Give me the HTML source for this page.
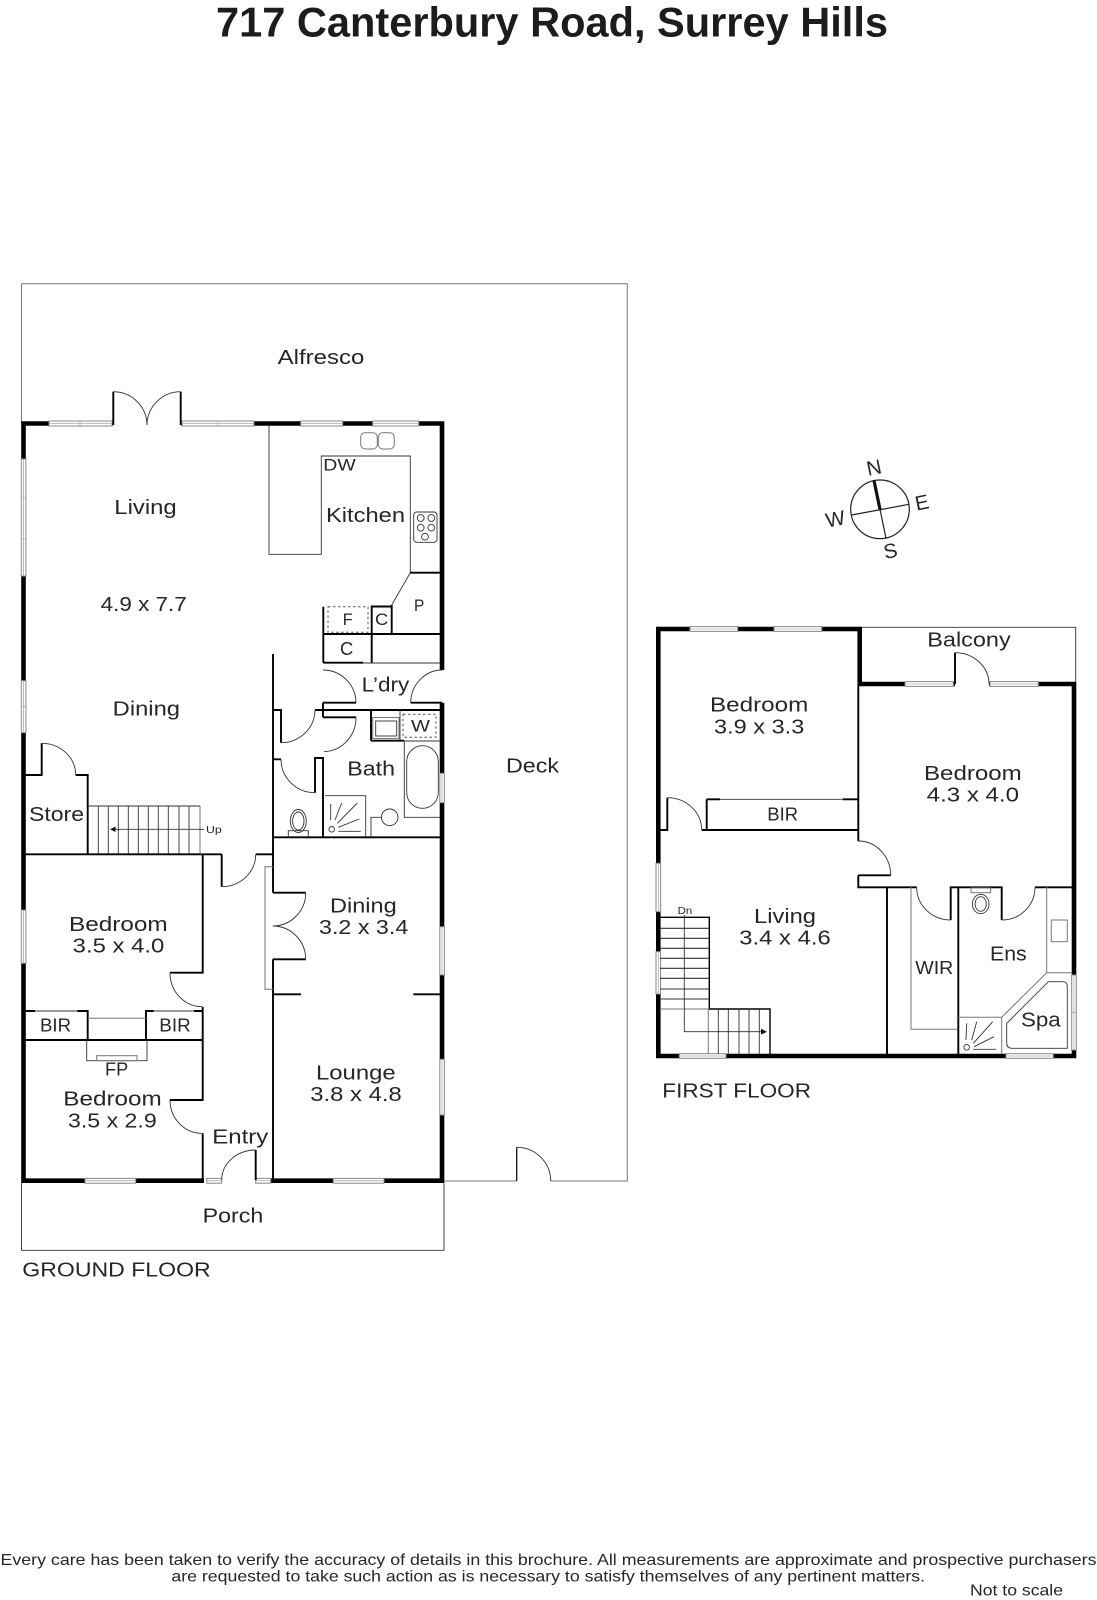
<!DOCTYPE html>
<html>
<head>
<meta charset="utf-8">
<style>
html,body{margin:0;padding:0;background:#fff;width:1097px;height:1600px;overflow:hidden}
svg{display:block}
text{font-family:"Liberation Sans",sans-serif;fill:#262626;font-size:20.5px}
.w{stroke:#000;stroke-width:4.6;fill:none}
.i{stroke:#000;stroke-width:1.9;fill:none}
.t{stroke:#333;stroke-width:.9;fill:none}
.g{stroke:#777;stroke-width:1;fill:none}
.win{fill:#fff;stroke:#888;stroke-width:1}
.wl{stroke:#aaa;stroke-width:.8}
</style>
</head>
<body>
<svg width="1097" height="1600" viewBox="0 0 1097 1600" xmlns="http://www.w3.org/2000/svg">
<rect width="1097" height="1600" fill="#fff"/>

<!-- Title -->
<text x="216" y="36.5" textLength="672" lengthAdjust="spacingAndGlyphs" style="font-size:42px;font-weight:bold;fill:#1c1c1c">717 Canterbury Road, Surrey Hills</text>

<!-- Outlines: alfresco, deck, porch -->
<path class="g" d="M21.5 423V283.7H627.3V1181H550.7M516.7 1181H444"/>
<path class="t" d="M21.5 1183V1250.3H444V1183"/>
<path d="M516.7 1181V1147.3" stroke="#111" stroke-width="1.3" fill="none"/>
<path class="t" d="M516.7 1147.3A34 33.7 0 0 1 550.7 1181"/>

<!-- GROUND FLOOR exterior walls -->
<path class="w" d="M21.2 423.5H113M181 423.5H442M23.5 423.5V1180.7M442 421.2V670M442 702.7V1183M21.2 1180.7H204M270 1180.7H444.3"/>

<!-- Windows top -->
<rect class="win" x="49" y="421" width="63" height="5"/><path class="wl" d="M49 423.5H112M80 421V426"/>
<rect class="win" x="182" y="421" width="72" height="5"/><path class="wl" d="M182 423.5H254M217.7 421V426"/>
<rect class="win" x="300.7" y="421" width="42" height="5"/><path class="wl" d="M300.7 423.5H342.7"/>
<rect class="win" x="372.7" y="421" width="46" height="5"/><path class="wl" d="M372.7 423.5H418.7"/>
<!-- Windows left -->
<rect class="win" x="21.3" y="459" width="4.6" height="117"/><path class="wl" d="M23.5 459V576M21 498H26M21 539H26"/>
<rect class="win" x="21.3" y="680.7" width="4.6" height="52"/><path class="wl" d="M23.5 680.7V732.7M21 706.7H26"/>
<rect class="win" x="21.3" y="910" width="4.6" height="53.3"/><path class="wl" d="M23.5 910V963.3"/>
<!-- Windows right -->
<rect class="win" x="439.8" y="773.3" width="4.6" height="29.4"/><path class="wl" d="M442 773.3V802.7"/>
<rect class="win" x="439.8" y="926.7" width="4.6" height="48.3"/><path class="wl" d="M442 926.7V975"/>
<rect class="win" x="439.8" y="1059.3" width="4.6" height="55.7"/><path class="wl" d="M442 1059.3V1115"/>
<!-- Windows bottom -->
<rect class="win" x="85" y="1178.4" width="50.7" height="4.8"/><path class="wl" d="M85 1180.7H135.7"/>
<rect class="win" x="206.7" y="1178.4" width="15" height="4.8"/><path class="wl" d="M206.7 1180.7H221.7"/>
<rect class="win" x="255.7" y="1178.4" width="15" height="4.8"/><path class="wl" d="M255.7 1180.7H270.7"/>
<rect class="win" x="333.3" y="1178.4" width="50.7" height="4.8"/><path class="wl" d="M333.3 1180.7H384"/>

<!-- Alfresco double door -->
<path class="i" d="M113.3 425V391.7M180.7 425V391.7"/>
<path class="t" d="M113.3 391.7A33.7 33.7 0 0 1 147 425M180.7 391.7A33.7 33.7 0 0 0 147 425"/>

<!-- Kitchen -->
<path class="t" d="M269 425V554.3H321.3V456H410.3V572.7L391.7 605"/>
<path class="i" d="M410.3 572.7H440M391.7 605V634M371.7 606.5H391.7M371.7 605.5V662.7M323.3 606.7V662.7M323.3 634H440M323.3 662.7H363"/>
<path class="t" d="M363 663H440"/>
<rect class="g" x="360.7" y="432.7" width="16.6" height="16.3" rx="4.5"/>
<rect class="g" x="378.3" y="432.7" width="16" height="16.3" rx="4.5"/>
<rect class="t" x="413.7" y="512" width="23.3" height="30.3" rx="3"/>
<circle class="t" cx="420.7" cy="518" r="3.4"/><circle class="t" cx="431.3" cy="518" r="3.4"/>
<circle class="t" cx="420.7" cy="527.7" r="3.4"/><circle class="t" cx="431.3" cy="527.7" r="3.4"/>
<circle class="t" cx="425" cy="536.7" r="3.4"/>
<rect x="328" y="606.7" width="40" height="25.6" fill="none" stroke="#555" stroke-width="1" stroke-dasharray="2.5 2.5"/>

<!-- Laundry doors -->
<path class="t" d="M323 670A33 33 0 0 1 356 702.7M442 670A31.5 33 0 0 0 410.7 702.7"/>
<path class="i" d="M323 702.7H356M410.7 702.7H442M323 702.7V717.3"/>
<path class="i" d="M323 710H440M323 717.3H356M371 710V740.7M371 740.7H404"/>
<path class="t" d="M356 717.3A33 34 0 0 1 324 751.7"/>
<path class="t" d="M404 741H440"/>
<rect class="g" x="372.7" y="717.5" width="26.3" height="21"/>
<rect class="t" x="375.7" y="721" width="21" height="15"/>
<path class="t" d="M400 710V740"/>
<rect x="403" y="714.3" width="33" height="23" fill="none" stroke="#555" stroke-width="1" stroke-dasharray="2.5 2.5"/>

<!-- Bathroom / WC -->
<path class="i" d="M273 654V892.7M273 959.3V1180M273 710H281V742.7M315 710H323M273 759.3H281M315 792.7V758H323V837.3M273 837.3H440"/>
<path class="t" d="M281 742.7A34 33 0 0 0 315 710M315 792.7A34 33.5 0 0 1 281 759.3"/>
<path class="t" d="M404.3 741V817.3H440M371 837V817.3H381.5"/>
<rect class="t" x="406.7" y="745.7" width="31.6" height="62.6" rx="15.8"/>
<circle class="t" cx="389.7" cy="817.3" r="8.3" style="fill:#fff"/>
<path class="t" d="M325 795.7H365.7V837"/>
<circle class="t" cx="331.7" cy="829.3" r="2.8"/>
<path class="t" d="M330.7 820V804M335 820L341.7 803M337.3 823.3L357.3 803M338.3 827.3L359.3 819M338.3 831.3H360.7"/>
<ellipse class="t" cx="298.3" cy="821" rx="8" ry="11.5"/>
<ellipse class="t" cx="298.3" cy="821" rx="5.7" ry="9"/>
<rect class="t" x="288.3" y="830.7" width="20" height="6"/>

<!-- Store + stairs -->
<path class="i" d="M25.7 775H41.7V743.3M75.7 775H87.7V854.3M25.7 854.3H221.7M255.7 854.3H273"/>
<path class="t" d="M41.7 743.3A34 31.7 0 0 1 75.7 775"/>
<path class="t" d="M87.7 806H200"/>
<path class="g" d="M200 806V854"/>
<path class="t" d="M98.3 806V854M108.3 806V854M118.3 806V854M128.3 806V854M138.3 806V854M148.3 806V854M158.3 806V854M168.3 806V854M179 806V854M189 806V854"/>
<path class="t" d="M204 829.3H112"/>
<path d="M110 829.3L115.5 826.5V832Z" fill="#111"/>

<!-- Hall door & bedrooms -->
<path class="i" d="M221.7 854.3V886.7M202.7 854.3V972.7H170M202.7 1006.7V1100H170M202.7 1133.3V1180"/>
<path class="t" d="M221.7 886.7A34 32.4 0 0 0 255.7 854.3M170 972.7A32 34 0 0 0 202 1006.7M170 1100A32 33.3 0 0 0 202 1133.3"/>
<path class="i" d="M25.7 1011H35M77.3 1011H87.7V1040M146 1040V1011H153.7M194 1011H202M25.7 1040H202.7"/>
<path class="t" d="M35 1011H77.3M153.7 1011H194"/>
<path class="g" d="M88 1018.3H146"/>
<path class="t" d="M86.7 1040V1060.7H147V1040"/>
<rect class="g" x="96.7" y="1055.7" width="40.3" height="5"/>

<!-- Dining sliding / double door -->
<path class="g" d="M273 866.7H265V989.3H273"/>
<path class="i" d="M273 892.7H305.7M273 959.3H305.7M273 994.3H301M413.3 994.3H440"/>
<path class="t" d="M305.7 892.7A33 33.3 0 0 1 272.7 926M305.7 959.3A33 33.3 0 0 0 272.7 926"/>

<!-- Entry door -->
<path class="i" d="M255.7 1150V1180"/>
<path class="t" d="M255.7 1150A34 30 0 0 0 221.7 1180"/>

<!-- FIRST FLOOR -->
<path class="t" d="M862 627.3H1075.7V682"/>
<path class="w" d="M656 629H862M658.3 627V1058M859.7 627V686M857.5 684H955M989 684H1076.3M1074 682V975M1074 1050V1058M656 1056H1076.3"/>
<!-- windows -->
<rect class="win" x="690" y="626.6" width="47.7" height="4.8"/><path class="wl" d="M690 629H737.7"/>
<rect class="win" x="774" y="626.6" width="47.7" height="4.8"/><path class="wl" d="M774 629H821.7"/>
<rect class="win" x="905" y="681.6" width="48.3" height="4.8"/><path class="wl" d="M905 684H953.3"/>
<rect class="win" x="990" y="681.6" width="48.3" height="4.8"/><path class="wl" d="M990 684H1038.3"/>
<rect class="win" x="656" y="863.3" width="4.6" height="48.4"/><path class="wl" d="M658.3 863.3V911.7"/>
<rect class="win" x="656" y="951.7" width="4.6" height="42.3"/><path class="wl" d="M658.3 951.7V994"/>
<rect class="win" x="679.3" y="1053.7" width="46.7" height="4.6"/><path class="wl" d="M679.3 1056H726"/>
<rect class="win" x="1006" y="1053.7" width="47.3" height="4.6"/><path class="wl" d="M1006 1056H1053.3"/>
<rect class="win" x="1071.7" y="975" width="4.6" height="75"/><path class="wl" d="M1074 975V1050M1071 1012.3H1076"/>

<path class="i" d="M955 684V652.7"/>
<path class="t" d="M955 652.7A34 31.3 0 0 1 989 684"/>
<path class="i" d="M858.3 686V841M858.3 875.3H890.7M858.3 875.3V887.3H916.7M950.7 920V887.3H1001.7V920M1035 887.3H1074"/>
<path class="t" d="M858.3 841A32.4 34.3 0 0 1 890.7 875.3M916.7 887.3A34 32.7 0 0 0 950.7 920M1001.7 920A33.3 32.7 0 0 0 1035 887.3"/>
<path class="i" d="M706.7 799.3H720M842.7 799.3H858M706.7 799.3V830M701.7 830H858M660 830H667.3V797.7"/>
<path class="t" d="M720 799.3H842.7M667.3 797.7A34.4 32.3 0 0 1 701.7 830"/>

<!-- First floor stairs -->
<path class="i" style="stroke-width:1.4" d="M660 917.3H709.3V1009H770V1054"/>
<path class="g" d="M660 1009H709.3M708.3 1009V1054"/>
<path class="t" style="stroke-width:1.1" d="M660 928.3H709M660 938.3H709M660 948.3H709M660 958.3H709M660 968.3H709M660 978.3H709M660 989H709M660 999H709"/>
<path class="t" d="M718.3 1009V1054M728.3 1009V1054M739 1009V1054M749 1009V1054M759.3 1009V1054"/>
<path class="t" d="M684.3 915V1031.7H762"/>
<path d="M767 1031.7L761 1028.8V1034.6Z" fill="#111"/>

<!-- Partitions, WIR, Ens -->
<path class="i" d="M887 887V1054M958.3 887V1054"/>
<path class="g" d="M911 887V1029.3H958M1046.7 887V972.7H1072M1046.7 972.7L1001.7 1017.3V1054M958 1017.3H1001.7"/>
<rect class="g" x="1051.3" y="920" width="16" height="21.7"/>
<rect class="g" x="971" y="888" width="19.7" height="4.7"/>
<ellipse class="t" cx="980.7" cy="904" rx="8.3" ry="9.7"/>
<ellipse class="t" cx="980.7" cy="904" rx="5.6" ry="7.3"/>
<circle class="t" cx="966.7" cy="1047.3" r="2.8"/>
<path class="t" d="M966 1040L966.7 1023.3M971.7 1040L976.7 1021.7M973.3 1043.3L992.7 1021.7M974 1046.7L994 1036.7M973.3 1049.3H996"/>
<path class="t" d="M1006.7 1023.3L1048.3 981.7H1063Q1067.3 981.7 1067.3 986.7V1048.3H1012Q1006.7 1048.3 1006.7 1043.3Z"/>

<!-- Compass -->
<circle cx="880" cy="509.3" r="29.3" fill="none" stroke="#222" stroke-width="1.2"/>
<path d="M886 538.3L880 509.3M851.7 515L909 504.3" stroke="#222" stroke-width="1.2" fill="none"/>
<path d="M874 480.7L880 509.3" stroke="#111" stroke-width="3.2" fill="none"/>
<text x="866.5" y="474.5" transform="rotate(-11.5 874 467)">N</text>
<text x="915" y="509.5" transform="rotate(-11.5 921.7 502.3)">E</text>
<text x="883.5" y="558" transform="rotate(-11.5 890 550.7)">S</text>
<text x="825.5" y="526" transform="rotate(-11.5 835 518.3)">W</text>

<!-- Labels ground floor -->
<text x="277.7" y="364" textLength="86.6" lengthAdjust="spacingAndGlyphs">Alfresco</text>
<text x="114.3" y="514" textLength="62.4" lengthAdjust="spacingAndGlyphs">Living</text>
<text x="326" y="522" textLength="79" lengthAdjust="spacingAndGlyphs">Kitchen</text>
<text x="323.3" y="470.7" textLength="32.4" lengthAdjust="spacingAndGlyphs" style="font-size:17px">DW</text>
<text x="100.7" y="611.2" textLength="86" lengthAdjust="spacingAndGlyphs">4.9 x 7.7</text>
<text x="414" y="611" textLength="10.3" lengthAdjust="spacingAndGlyphs" style="font-size:17px">P</text>
<text x="342.7" y="625" textLength="10" lengthAdjust="spacingAndGlyphs" style="font-size:17px">F</text>
<text x="375" y="625" textLength="13.3" lengthAdjust="spacingAndGlyphs" style="font-size:17px">C</text>
<text x="340" y="655" textLength="13.3" lengthAdjust="spacingAndGlyphs" style="font-size:18px">C</text>
<text x="361.7" y="691.7" textLength="47.6" lengthAdjust="spacingAndGlyphs">L’dry</text>
<text x="112.7" y="715.5" textLength="67.3" lengthAdjust="spacingAndGlyphs">Dining</text>
<text x="411" y="731.7" textLength="19" lengthAdjust="spacingAndGlyphs" style="font-size:17px">W</text>
<text x="347.3" y="775.5" textLength="47.7" lengthAdjust="spacingAndGlyphs">Bath</text>
<text x="29" y="821" textLength="55" lengthAdjust="spacingAndGlyphs">Store</text>
<text x="206" y="833" textLength="15.7" lengthAdjust="spacingAndGlyphs" style="font-size:10.5px">Up</text>
<text x="506" y="772.5" textLength="53" lengthAdjust="spacingAndGlyphs">Deck</text>
<text x="330" y="912.5" textLength="66.7" lengthAdjust="spacingAndGlyphs">Dining</text>
<text x="319" y="934" textLength="89.3" lengthAdjust="spacingAndGlyphs">3.2 x 3.4</text>
<text x="69" y="931" textLength="98.7" lengthAdjust="spacingAndGlyphs">Bedroom</text>
<text x="72.7" y="952.3" textLength="91.6" lengthAdjust="spacingAndGlyphs">3.5 x 4.0</text>
<text x="40" y="1031.7" textLength="31" lengthAdjust="spacingAndGlyphs" style="font-size:18px">BIR</text>
<text x="159.3" y="1031.7" textLength="31.4" lengthAdjust="spacingAndGlyphs" style="font-size:18px">BIR</text>
<text x="105" y="1075.7" textLength="23.3" lengthAdjust="spacingAndGlyphs" style="font-size:18px">FP</text>
<text x="63.3" y="1105.7" textLength="98.4" lengthAdjust="spacingAndGlyphs">Bedroom</text>
<text x="68" y="1127.7" textLength="88.7" lengthAdjust="spacingAndGlyphs">3.5 x 2.9</text>
<text x="212.3" y="1143.3" textLength="56" lengthAdjust="spacingAndGlyphs">Entry</text>
<text x="316" y="1079.5" textLength="79.7" lengthAdjust="spacingAndGlyphs">Lounge</text>
<text x="310.3" y="1101" textLength="91.4" lengthAdjust="spacingAndGlyphs">3.8 x 4.8</text>
<text x="202.7" y="1222.7" textLength="60.6" lengthAdjust="spacingAndGlyphs">Porch</text>
<text x="22.3" y="1276.5" textLength="188.4" lengthAdjust="spacingAndGlyphs">GROUND FLOOR</text>

<!-- Labels first floor -->
<text x="927.3" y="646.5" textLength="83.4" lengthAdjust="spacingAndGlyphs">Balcony</text>
<text x="710" y="711.7" textLength="98.3" lengthAdjust="spacingAndGlyphs">Bedroom</text>
<text x="714" y="733.3" textLength="90.3" lengthAdjust="spacingAndGlyphs">3.9 x 3.3</text>
<text x="924" y="780" textLength="97.7" lengthAdjust="spacingAndGlyphs">Bedroom</text>
<text x="926.7" y="801.7" textLength="92.3" lengthAdjust="spacingAndGlyphs">4.3 x 4.0</text>
<text x="767.3" y="820.7" textLength="30.7" lengthAdjust="spacingAndGlyphs" style="font-size:18px">BIR</text>
<text x="754" y="923" textLength="62" lengthAdjust="spacingAndGlyphs">Living</text>
<text x="739.3" y="944.3" textLength="91.4" lengthAdjust="spacingAndGlyphs">3.4 x 4.6</text>
<text x="915.3" y="974" textLength="38" lengthAdjust="spacingAndGlyphs" style="font-size:18px">WIR</text>
<text x="990" y="960.7" textLength="36.7" lengthAdjust="spacingAndGlyphs">Ens</text>
<text x="1021" y="1026.7" textLength="39.7" lengthAdjust="spacingAndGlyphs">Spa</text>
<text x="677.7" y="914" textLength="14.6" lengthAdjust="spacingAndGlyphs" style="font-size:10.5px">Dn</text>
<text x="662.3" y="1097.5" textLength="148.7" lengthAdjust="spacingAndGlyphs">FIRST FLOOR</text>

<!-- Footer -->
<text x="0.5" y="1565" textLength="1096" lengthAdjust="spacingAndGlyphs" style="font-size:16px">Every care has been taken to verify the accuracy of details in this brochure.  All measurements are approximate and prospective purchasers</text>
<text x="171.4" y="1581.7" textLength="753.6" lengthAdjust="spacingAndGlyphs" style="font-size:16px">are requested to take such action as is necessary to satisfy themselves of any pertinent matters.</text>
<text x="970" y="1595.7" textLength="93" lengthAdjust="spacingAndGlyphs" style="font-size:16px">Not to scale</text>
</svg>
</body>
</html>
